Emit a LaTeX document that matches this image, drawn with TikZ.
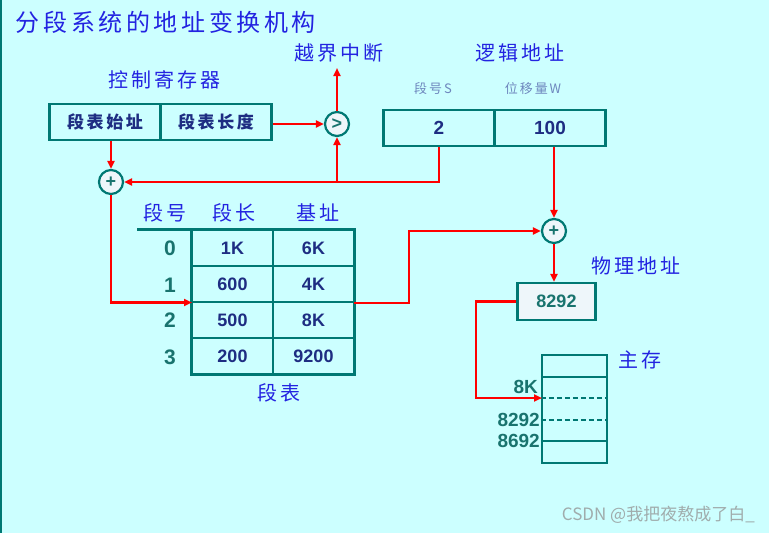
\documentclass[tikz,border=0pt]{standalone}
\usepackage{fontspec}
\setmainfont{Liberation Sans}
\newfontfamily\cjk[LetterSpace=15]{Noto Sans CJK SC}
\newfontfamily\cjkplain{Noto Sans CJK SC}
\usetikzlibrary{arrows.meta}
\definecolor{bg}{RGB}{204,255,255}
\definecolor{tealline}{RGB}{0,120,115}
\definecolor{navy}{RGB}{30,45,130}
\definecolor{lblue}{RGB}{35,35,225}
\definecolor{tnum}{RGB}{25,115,110}
\definecolor{grayblue}{RGB}{110,135,190}
\definecolor{cfill}{RGB}{238,246,250}
\definecolor{wmark}{RGB}{160,172,172}
\begin{document}
\begin{tikzpicture}[x=1pt,y=-1pt,
  cell/.style={draw=tealline,line width=1.2pt,inner sep=0pt,text=navy,font=\bfseries\fontsize{18}{18}\selectfont},
  regcell/.style={cell,line width=2.2pt,minimum width=111pt,minimum height=36pt,font=\cjk\bfseries\fontsize{17}{17}\selectfont},
  lacell/.style={cell,line width=2.2pt,minimum width=111pt,minimum height=36pt,font=\bfseries\fontsize{19}{19}\selectfont},
  tcell/.style={cell,minimum width=81pt,minimum height=36pt},
  circ/.style={circle,draw=tealline,line width=2.2pt,fill=cfill,minimum size=24pt,inner sep=0pt,text=tnum,font=\bfseries\fontsize{18}{18}\selectfont},
  lbl/.style={text=lblue,inner sep=0pt,font=\cjk\fontsize{20}{20}\selectfont},
  smalllbl/.style={text=grayblue,inner sep=0pt,font=\cjk\fontsize{13}{13}\selectfont},
  rownum/.style={text=tnum,inner sep=0pt,font=\bfseries\fontsize{21}{21}\selectfont},
  memlbl/.style={text=tnum,inner sep=0pt,anchor=east,font=\bfseries\fontsize{19}{19}\selectfont},
  redarrow/.style={draw=red,line width=2.3pt,-{Triangle[length=8pt,width=7pt]}},
  border/.style={draw=tealline,line width=2.2pt},
  thin/.style={draw=tealline,line width=1.2pt},
  dashline/.style={thin,dash pattern=on 5pt off 3pt}
]
% background
\fill[bg] (0,0) rectangle (769,533);
\useasboundingbox (0,0) rectangle (769,533);
\draw[tealline,line width=2.5pt] (1,0) -- (1,533);

% title
\node[text=lblue,inner sep=0pt,font=\cjk\fontsize{24}{24}\selectfont] (title) at (166,22) {分段系统的地址变换机构};

% labels
\node[lbl] (ovf) at (339,53) {越界中断};
\node[lbl] (crlabel) at (164,80) {控制寄存器};
\node[lbl] (lalabel) at (520,53) {逻辑地址};
\node[smalllbl] (segS) at (433,89) {段号S};
\node[smalllbl] (offW) at (533,89) {位移量W};
\node[lbl] (palabel) at (636,266) {物理地址};
\node[lbl] (memlabel) at (640,360) {主存};
\node[lbl] (tlabel) at (279,393) {段表};
\node[lbl] (h0) at (165,213) {段号};
\node[lbl] (h1) at (234,213) {段长};
\node[lbl] (h2) at (318,213) {基址};

% control register
\node[regcell] (cr1) at (105,122) {段表始址};
\node[regcell] (cr2) at (216,122) {段表长度};

% logical address
\node[lacell] (la1) at (439,128) {2};
\node[lacell] (la2) at (550,128) {100};

% circles
\node[circ] (cmp) at (337,124) {>};
\node[circ] (add1) at (111,182) {+};
\node[circ] (add2) at (554,231) {+};

% segment table
\node[tcell] (l0) at (232.5,248) {1K};
\node[tcell] (b0) at (313.5,248) {6K};
\node[tcell] (l1) at (232.5,284) {600};
\node[tcell] (b1) at (313.5,284) {4K};
\node[tcell] (l2) at (232.5,320) {500};
\node[tcell] (b2) at (313.5,320) {8K};
\node[tcell] (l3) at (232.5,356) {200};
\node[tcell] (b3) at (313.5,356) {9200};
\draw[border] (l0.north west) rectangle (b3.south east);
\draw[border] (l0.north west) -- (l0.north west -| 137,0);
\node[rownum] (r0) at (170,248) {0};
\node[rownum] (r1) at (170,285) {1};
\node[rownum] (r2) at (170,320) {2};
\node[rownum] (r3) at (170,357) {3};

% physical address
\node[cell,line width=2.2pt,fill=cfill,minimum width=78pt,minimum height=37pt,text=tnum] (pa) at (556.5,301.5) {8292};

% main memory
\node[draw=tealline,line width=2.2pt,minimum width=65pt,minimum height=108pt,inner sep=0pt] (mem) at (574.5,409) {};
\draw[thin] (mem.west |- 0,377) -- (mem.east |- 0,377);
\draw[dashline] (mem.west |- 0,398) -- (mem.east |- 0,398);
\draw[dashline] (mem.west |- 0,420) -- (mem.east |- 0,420);
\draw[thin] (mem.west |- 0,441) -- (mem.east |- 0,441);
\node[memlbl] (m8k) at (538,387) {8K};
\node[memlbl] (m8292) at (540,420) {8292};
\node[memlbl] (m8692) at (540,441) {8692};

% watermark
\node[text=wmark,inner sep=0pt,anchor=east,font=\cjkplain\fontsize{17}{17}\selectfont] (wm) at (755,515) {CSDN @我把夜熬成了白\_};

% connectors
\coordinate (ovfend) at (337,68);
\coordinate (jn) at (337,182);
\coordinate (tin) at (192,302.5);
\coordinate (tout) at (354,303);
\coordinate (bend1) at (409,303);
\coordinate (memin) at (542,398);

\draw[redarrow] (cr2.east |- cmp) -- (cmp.west);
\draw[redarrow] (cmp.north) -- (ovfend);
\draw[redarrow] (la1.south) |- (add1.east);
\draw[redarrow] (jn) -- (cmp.south);
\draw[redarrow] (add1 |- cr1.south) -- (add1.north);
\draw[redarrow] (add1.south) |- (tin);
\draw[redarrow] (tout) -- (bend1) |- (add2.west);
\draw[redarrow] (add2 |- la2.south) -- (add2.north);
\draw[redarrow] (add2.south) -- (pa.north -| add2);
\draw[redarrow] (pa.west) -- (pa.west -| 476,0) |- (memin);
\end{tikzpicture}
\end{document}
